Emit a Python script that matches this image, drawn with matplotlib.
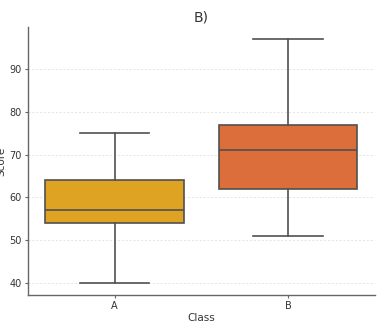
import matplotlib
matplotlib.use("Agg")
import matplotlib.pyplot as plt

# Five-number summaries per class
classes = ["A", "B"]
whisker_low = [40, 51]
q1 = [54, 62]
median = [57, 71]
q3 = [64, 77]
whisker_high = [75, 97]
colors = ["#DFA324", "#DB6E3A"]

fig = plt.figure(figsize=(3.88, 3.27), dpi=100)
ax = fig.add_axes([0.072, 0.098, 0.894, 0.819])

stats = [
    dict(label=c, whislo=lo, q1=a, med=m, q3=b, whishi=hi, fliers=[])
    for c, lo, a, m, b, hi in zip(classes, whisker_low, q1, median, q3, whisker_high)
]
edge = "#505050"
bp = ax.bxp(stats, positions=range(len(classes)), widths=0.8, patch_artist=True,
            boxprops=dict(edgecolor=edge, linewidth=1.2),
            medianprops=dict(color=edge, linewidth=1.2),
            whiskerprops=dict(color=edge, linewidth=1.2),
            capprops=dict(color=edge, linewidth=1.2),
            capwidths=0.4)
for patch, col in zip(bp["boxes"], colors):
    patch.set_facecolor(col)

ax.set_xlim(-0.5, 1.5)
ax.set_ylim(37.2, 99.8)
ax.set_yticks([40, 50, 60, 70, 80, 90])
ax.set_xticks(range(len(classes)))
ax.set_xticklabels(classes)
ax.yaxis.grid(True, linestyle=(0, (2, 2)), color="#e4e4e4", linewidth=0.7)
ax.set_axisbelow(True)

for s in ["top", "right"]:
    ax.spines[s].set_visible(False)
for s in ["left", "bottom"]:
    ax.spines[s].set_color("#666666")
    ax.spines[s].set_linewidth(1.0)
ax.tick_params(axis="both", labelsize=7, colors="#666666", labelcolor="#333333",
               length=2.5, width=0.8, pad=2)

ax.set_title("B)", fontsize=10, color="#333333", pad=4)
ax.set_xlabel("Class", fontsize=7.5, color="#333333", labelpad=1)
ax.set_ylabel("Score", fontsize=7.5, color="#333333", labelpad=2)

fig.savefig("out.png", dpi=100)
